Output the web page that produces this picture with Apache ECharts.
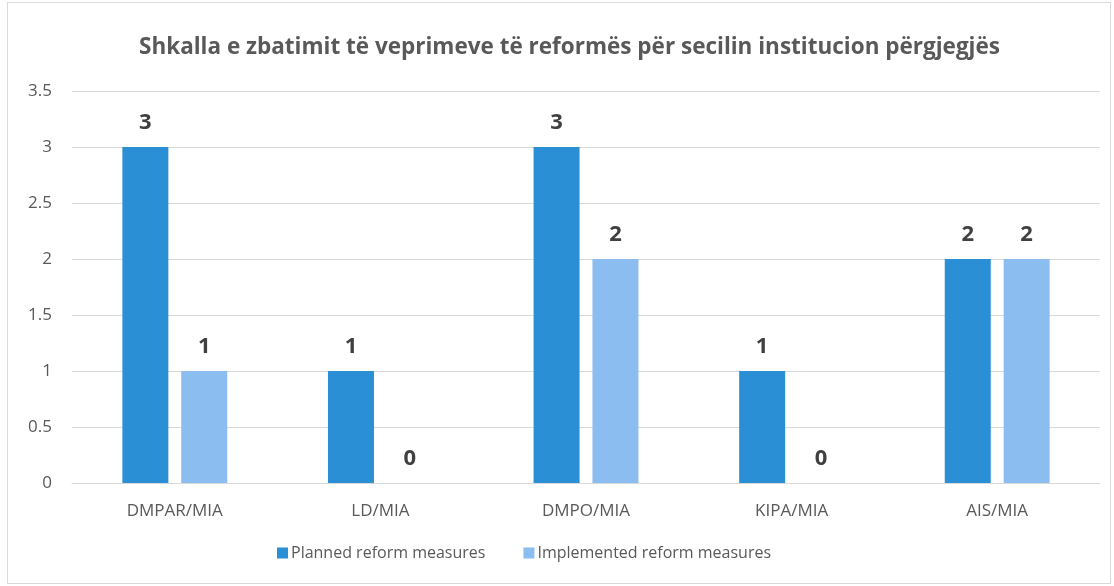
<!DOCTYPE html>
<html>
<head>
<meta charset="utf-8">
<script src="https://cdn.jsdelivr.net/npm/echarts@6/dist/echarts.min.js"></script>
<style>
  html, body { margin: 0; padding: 0; background: #fff; }
  #frame { position: absolute; left: 7px; top: 2px; width: 1104px; height: 582px; border: 1px solid #d9d9d9; box-sizing: border-box; }
  #chart { position: absolute; left: 0; top: 0; width: 1114px; height: 586px; }
</style>
</head>
<body>
<div id="frame"></div>
<div id="chart"></div>
<script>
// kategoritë dhe vlerat
var categories = ['DMPAR/MIA', 'LD/MIA', 'DMPO/MIA', 'KIPA/MIA', 'AIS/MIA'];
var planned = [3, 1, 3, 1, 2];
var implemented = [1, 0, 2, 0, 2];
var seriesNames = ['Planned reform measures', 'Implemented reform measures'];

(function () {
    var chart = echarts.init(document.getElementById('chart'));
    var font = '"Open Sans", sans-serif';

    var labelStyle = {
        show: true,
        position: 'top',
        distance: 13,
        color: '#404040',
        fontWeight: 'bold',
        fontSize: 22,
        fontFamily: font
    };

    var option = {
        animation: false,
        title: {
            text: 'Shkalla e zbatimit të veprimeve të reformës për secilin institucion përgjegjës',
            left: 134,
            top: 31,
            textStyle: {
                color: '#595959',
                fontSize: 22.5,
                fontWeight: 'bold',
                fontFamily: font
            }
        },
        legend: {
            bottom: 20,
            left: 272,
            itemWidth: 11,
            itemHeight: 11,
            itemGap: 38,
            icon: 'rect',
            textStyle: { color: '#595959', fontSize: 16, fontFamily: font, padding: [0, 0, 0, -2] },
            data: seriesNames
        },
        grid: {
            left: 72,
            right: 14,
            top: 91,
            bottom: 103
        },
        xAxis: {
            type: 'category',
            data: categories,
            axisLine: { lineStyle: { color: '#d9d9d9', width: 1 } },
            axisTick: { show: false },
            axisLabel: { color: '#595959', fontSize: 17, fontFamily: font, margin: 20 }
        },
        yAxis: {
            type: 'value',
            min: 0,
            max: 3.5,
            interval: 0.5,
            axisLine: { show: false },
            axisTick: { show: false },
            axisLabel: { color: '#595959', fontSize: 17, fontFamily: font, margin: 20 },
            splitLine: { lineStyle: { color: '#d9d9d9' } }
        },
        series: [
            {
                name: seriesNames[0],
                type: 'bar',
                data: planned,
                barWidth: 46,
                barGap: '28%',
                itemStyle: { color: '#2a8fd4' },
                label: labelStyle
            },
            {
                name: seriesNames[1],
                type: 'bar',
                data: implemented,
                barWidth: 46,
                itemStyle: { color: '#8bbdf0' },
                label: labelStyle
            }
        ]
    };
    chart.setOption(option);
})();
</script>
</body>
</html>
